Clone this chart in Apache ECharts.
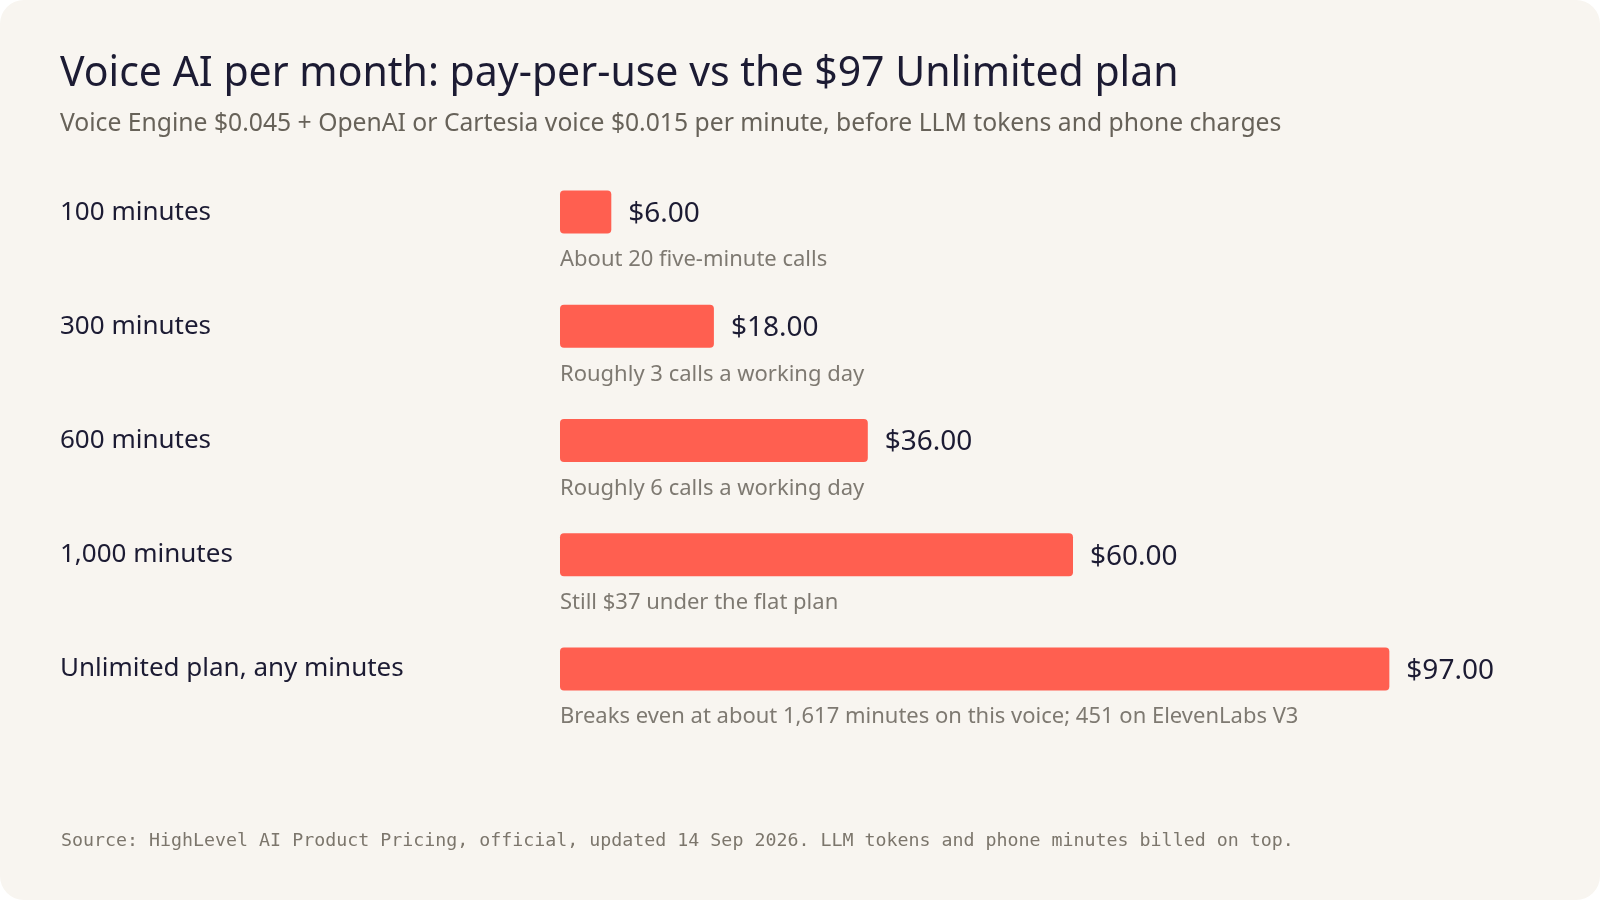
<!DOCTYPE html>
<html>
<head>
<meta charset="utf-8">
<title>Voice AI per month</title>
<script src="https://cdn.jsdelivr.net/npm/echarts@6/dist/echarts.min.js"></script>
<style>
  html, body { margin: 0; padding: 0; background: #ffffff; }
  .card {
    width: 1600px;
    height: 900px;
    border-radius: 24px;
    background: #f8f5f0;
    overflow: hidden;
  }
</style>
</head>
<body>
<div class="card"><div class="voice" style="width:1600px;height:900px;"></div></div>
<script>
// 数据
var categories = ["100 minutes", "300 minutes", "600 minutes", "1,000 minutes", "Unlimited plan, any minutes"];
var costs = [6, 18, 36, 60, 97];
var notes = [
  "About 20 five-minute calls",
  "Roughly 3 calls a working day",
  "Roughly 6 calls a working day",
  "Still $37 under the flat plan",
  "Breaks even at about 1,617 minutes on this voice; 451 on ElevenLabs V3"
];

(() => {
  var myChart = echarts.init(document.querySelector(".voice"));
  var sans = "'Noto Sans', 'DejaVu Sans', sans-serif";

  option = {
    backgroundColor: "transparent",
    title: [
      {
        text: "Voice AI per month: pay-per-use vs the $97 Unlimited plan",
        subtext: "Voice Engine $0.045 + OpenAI or Cartesia voice $0.015 per minute, before LLM tokens and phone charges",
        left: 55,
        top: 49,
        itemGap: 16,
        textStyle: {
          fontFamily: sans,
          fontSize: 41,
          fontWeight: "normal",
          color: "#1c1b33"
        },
        subtextStyle: {
          fontFamily: sans,
          fontSize: 24.7,
          color: "#676259"
        }
      },
      {
        text: "Source: HighLevel AI Product Pricing, official, updated 14 Sep 2026. LLM tokens and phone minutes billed on top.",
        left: 56,
        top: 827,
        textStyle: {
          fontFamily: "'DejaVu Sans Mono', monospace",
          fontSize: 18.3,
          fontWeight: "normal",
          color: "#7c766c"
        }
      }
    ],
    grid: {
      left: 560,
      right: 185,
      top: 155,
      height: 571
    },
    xAxis: {
      type: "value",
      min: 0,
      max: 100,
      show: false
    },
    yAxis: {
      type: "category",
      data: categories,
      inverse: true,
      axisLine: { show: false },
      axisTick: { show: false },
      splitLine: { show: false },
      axisLabel: {
        align: "left",
        margin: 500,
        fontFamily: sans,
        fontSize: 26,
        color: "#1c1b33",
        padding: [8, 0, 0, 0]
      }
    },
    series: [
      {
        name: "cost",
        type: "bar",
        data: costs,
        barWidth: 43,
        itemStyle: {
          color: "#ff5f50",
          borderRadius: 4
        },
        label: {
          show: true,
          position: "right",
          distance: 17,
          offset: [0, 2],
          fontFamily: sans,
          fontSize: 28,
          color: "#1c1b33",
          formatter: function(p) {
            return "$" + p.value.toFixed(2);
          }
        },
        silent: true
      },
      {
        // 说明文字放在条形下方
        name: "note",
        type: "scatter",
        data: notes.map(function(n, i) { return [0, i]; }),
        symbolSize: 0,
        label: {
          show: true,
          position: "right",
          distance: 0,
          offset: [0, 48],
          fontFamily: sans,
          fontSize: 22,
          color: "#5f5a51",
          formatter: function(p) {
            return notes[p.dataIndex];
          }
        },
        silent: true
      }
    ]
  };

  myChart.setOption(option);
})();
</script>
</body>
</html>
